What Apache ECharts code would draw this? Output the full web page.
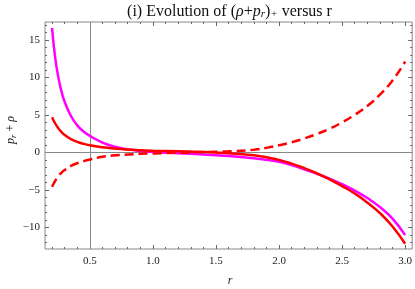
<!DOCTYPE html>
<html><head><meta charset="utf-8">
<script src="https://cdn.jsdelivr.net/npm/echarts@6/dist/echarts.min.js"></script>
<style>html,body{margin:0;padding:0;background:#fff}#c{width:415px;height:289px}</style>
</head><body><div id="c"></div>
<script>
const r = [0.2,0.225,0.25,0.275,0.3,0.35,0.4,0.45,0.5,0.6,0.7,0.8,0.9,1.0,1.2,1.4,1.6,1.8,1.9,2.0,2.1,2.2,2.3,2.4,2.5,2.6,2.7,2.8,2.9,3.0];
const magenta = [16.6,12.6,10.0,8.1,6.75,4.85,3.6,2.78,2.2,1.3,0.75,0.4,0.18,0.05,-0.12,-0.28,-0.48,-0.8,-1.0,-1.25,-1.7,-2.25,-2.85,-3.5,-4.25,-5.1,-6.1,-7.3,-8.85,-11.05];
const redSolid = [4.7,3.85,3.2,2.7,2.32,1.77,1.4,1.14,0.95,0.68,0.5,0.37,0.28,0.22,0.14,0.04,-0.12,-0.4,-0.65,-1.0,-1.5,-2.1,-2.8,-3.6,-4.5,-5.5,-6.7,-8.1,-9.9,-12.2];
const redDashed = [-4.6,-3.8,-3.2,-2.7,-2.35,-1.8,-1.45,-1.17,-0.95,-0.6,-0.4,-0.28,-0.2,-0.14,-0.06,0.04,0.14,0.35,0.6,0.95,1.35,1.85,2.45,3.15,4.0,5.0,6.2,7.7,9.6,12.1];
const xTicks = [0.5,1.0,1.5,2.0,2.5,3.0];
const xMinor = [0.2,0.3,0.4,0.6,0.7,0.8,0.9,1.1,1.2,1.3,1.4,1.6,1.7,1.8,1.9,2.1,2.2,2.3,2.4,2.6,2.7,2.8,2.9];
const yTicks = [-10,-5,0,5,10,15];
const yMinor = [-12,-11,-9,-8,-7,-6,-4,-3,-2,-1,1,2,3,4,6,7,8,9,11,12,13,14,16,17];
const xMin = 0.144, xMax = 3.056, yMin = -12.9, yMax = 17.4;

const serif = '"Liberation Serif","DejaVu Serif",serif';
const pair = a => r.map((x,i)=>[x,a[i]]);
const fmtY = v => v < 0 ? '\u2212' + Math.abs(v) : String(v);

function xa(pos, vals, len, labels){
  return {type:'value', position:pos, min:xMin, max:xMax,
    axisLine:{show:false, onZero:false}, splitLine:{show:false},
    axisTick:{show:true, inside:true, length:len, customValues:vals, lineStyle:{color:'#666',width:1}},
    axisLabel:labels ? {show:true, customValues:vals, formatter:v=>v.toFixed(1), margin:7, fontSize:11, fontFamily:serif, color:'#222'} : {show:false}};
}
function ya(pos, vals, len, labels){
  return {type:'value', position:pos, min:yMin, max:yMax,
    axisLine:{show:false, onZero:false}, splitLine:{show:false},
    axisTick:{show:true, inside:true, length:len, customValues:vals, lineStyle:{color:'#666',width:1}},
    axisLabel:labels ? {show:true, customValues:vals, formatter:fmtY, margin:5, fontSize:11, fontFamily:serif, color:'#222'} : {show:false}};
}

const chart = echarts.init(document.getElementById('c'), null, {renderer:'canvas'});
chart.setOption({
  animation:false,
  grid:{left:45, right:1, top:22, bottom:40, show:true, borderColor:'#888', borderWidth:1, backgroundColor:'transparent'},
  xAxis:[xa('bottom', xTicks, 4, true), xa('bottom', xMinor, 2, false), xa('top', xTicks, 4, false), xa('top', xMinor, 2, false)],
  yAxis:[ya('left', yTicks, 4, true), ya('left', yMinor, 2, false), ya('right', yTicks, 4, false), ya('right', yMinor, 2, false)],
  series:[
    {type:'line', data:pair(magenta), smooth:0.5, showSymbol:false, z:3,
     lineStyle:{color:'#ff00ff', width:2.5},
     markLine:{silent:true, z:1, symbol:['none','none'], label:{show:false}, animation:false,
       lineStyle:{color:'#888', width:1, type:'solid'}, emphasis:{disabled:true},
       data:[{xAxis:0.5},{yAxis:0}]}},
    {type:'line', data:pair(redSolid), smooth:0.5, showSymbol:false, z:4,
     lineStyle:{color:'#ff0000', width:2.5}},
    {type:'line', data:pair(redDashed), smooth:0.5, showSymbol:false, z:4,
     lineStyle:{color:'#ff0000', width:2.5, type:[9,5]}}
  ],
  graphic:[
    {type:'text', x:229.5, y:12, style:{
      text:'(i) Evolution of ({i|\u03c1}+{i|p}{s|r}){s|+} versus r',
      fontFamily:serif, fontSize:16, fill:'#111', align:'center', verticalAlign:'middle',
      rich:{i:{fontStyle:'italic', fontFamily:serif, fontSize:16, fill:'#111'},
            s:{fontStyle:'italic', fontFamily:serif, fontSize:11, fill:'#111', verticalAlign:'bottom', lineHeight:12, padding:[7,0,0,0]}}}},
    {type:'text', x:11, y:130, rotation:Math.PI/2, style:{
      text:'{i|p}{s|r} + {i|\u03c1}', fontFamily:serif, fontSize:12, fill:'#222', align:'center', verticalAlign:'middle',
      rich:{i:{fontStyle:'italic', fontFamily:serif, fontSize:12, fill:'#222'},
            s:{fontStyle:'italic', fontFamily:serif, fontSize:9, fill:'#222', verticalAlign:'bottom', padding:[5,0,0,0]}}}},
    {type:'text', x:230, y:281, style:{text:'r', fontFamily:serif, fontStyle:'italic', fontSize:12, fill:'#222', align:'center', verticalAlign:'middle'}}
  ]
});
</script></body></html>
